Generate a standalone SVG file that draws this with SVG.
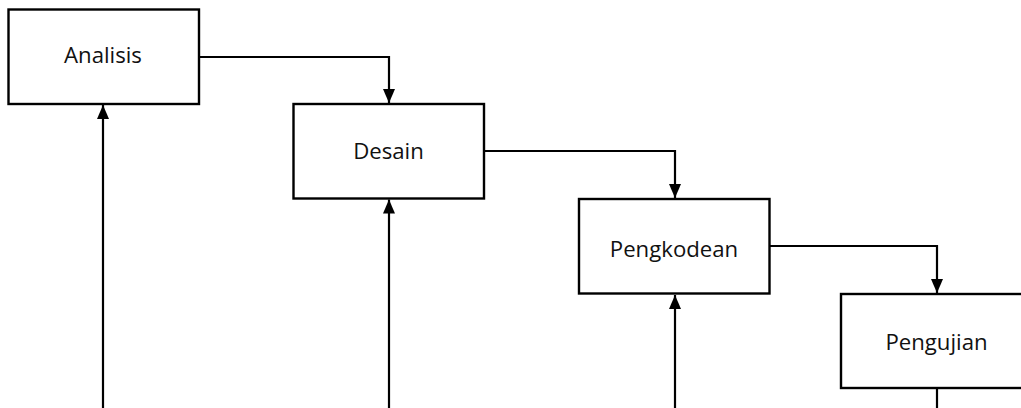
<svg xmlns="http://www.w3.org/2000/svg" width="1021" height="408" viewBox="0 0 1021 408">
<style>
.box{fill:#ffffff;stroke:#000000;stroke-width:2.4}
.lbl{font-family:"Open Sans","Liberation Sans",sans-serif;font-size:22.2px;fill:#111111;text-anchor:middle}
.conn{fill:none;stroke:#000000;stroke-width:2.2}
</style>
<defs>
<marker id="arr" markerUnits="userSpaceOnUse" markerWidth="14" markerHeight="14" viewBox="0 0 14 12" refX="14" refY="6" orient="auto">
<path d="M0,0 L14,6 L0,12 Z" fill="#000000"/>
</marker>
</defs>
<rect width="1021" height="408" fill="#ffffff"/>
<g id="connectors">
<path class="conn" d="M199,57 H389 V103" marker-end="url(#arr)"/>
<path class="conn" d="M484,151 H675 V198" marker-end="url(#arr)"/>
<path class="conn" d="M770,246 H937 V293" marker-end="url(#arr)"/>
<path class="conn" d="M103,408 V105" marker-end="url(#arr)"/>
<path class="conn" d="M389,408 V199.5" marker-end="url(#arr)"/>
<path class="conn" d="M675,408 V295" marker-end="url(#arr)"/>
<path class="conn" d="M937,388 V408"/>
</g>
<g id="analisis">
<rect class="box" x="8.5" y="9.5" width="190.5" height="94.5"/>
<text class="lbl" x="103" y="63">Analisis</text>
</g>
<g id="desain">
<rect class="box" x="293.5" y="104" width="190.5" height="94.5"/>
<text class="lbl" x="388.5" y="158.5">Desain</text>
</g>
<g id="pengkodean">
<rect class="box" x="579" y="199" width="190.5" height="94.5"/>
<text class="lbl" x="674" y="257">Pengkodean</text>
</g>
<g id="pengujian">
<rect class="box" x="841" y="294" width="191" height="94"/>
<text class="lbl" x="936.5" y="350">Pengujian</text>
</g>
</svg>
